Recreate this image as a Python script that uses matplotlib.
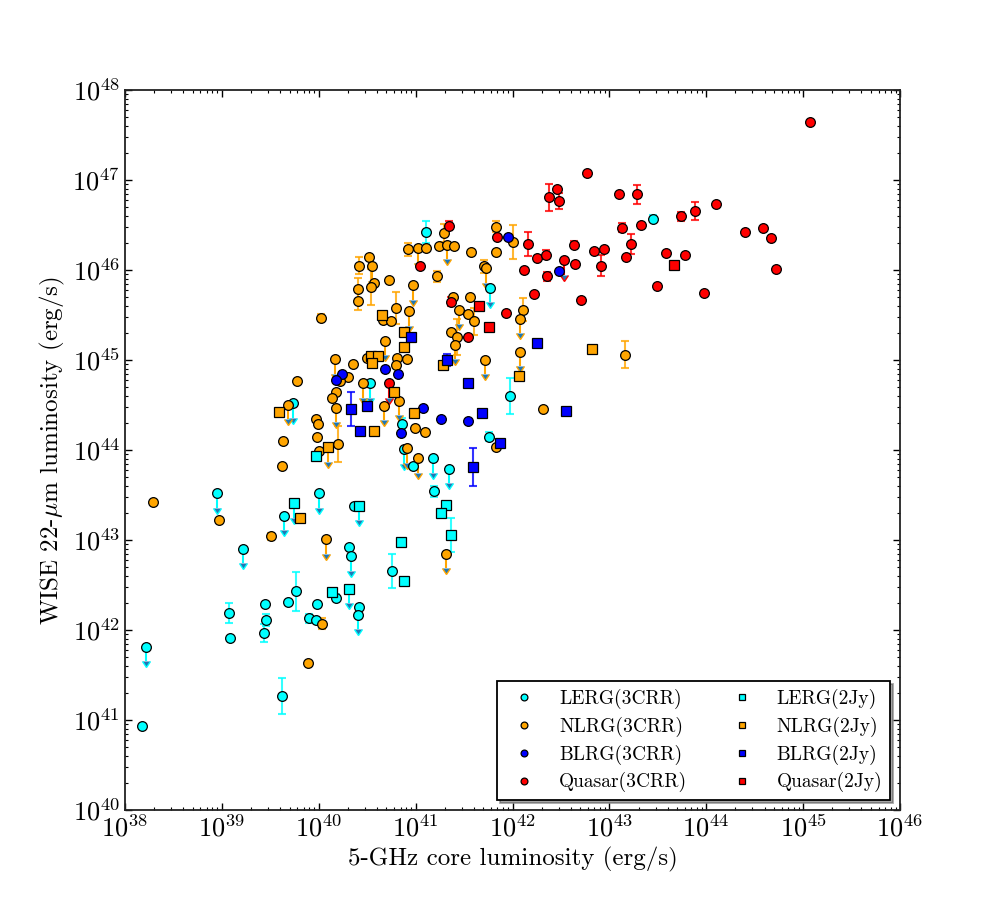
import numpy as np
import matplotlib
matplotlib.use('Agg')
import matplotlib.pyplot as plt
from matplotlib.ticker import LogLocator, NullFormatter

plt.rcParams['font.family'] = 'serif'
plt.rcParams['font.serif'] = ['cmr10']
plt.rcParams['mathtext.fontset'] = 'cm'
plt.rcParams['axes.unicode_minus'] = False
plt.rcParams['axes.formatter.use_mathtext'] = True

# log10 L_5GHz core, log10 L_22um, error in dex (0 = none, -1 = upper limit)
lerg3_x = [43.45, 41.11, 41.77, 41.97, 40.86, 41.76, 40.88, 40.97, 41.18, 41.34, 41.19, 40.76,
           40.53, 39.73, 38.95, 40.00, 39.64, 40.36, 39.22, 40.31, 40.33, 39.07, 39.08, 39.45,
           39.46, 39.43, 39.68, 39.77, 39.90, 39.98, 39.97, 40.18, 40.42, 40.41, 38.22, 39.62, 38.18]
lerg3_y = [46.57, 46.42, 45.80, 44.60, 44.29, 44.15, 44.01, 43.82, 43.91, 43.79, 43.54, 42.66,
           44.74, 44.52, 43.52, 43.52, 43.27, 43.38, 42.90, 42.92, 42.82, 42.19, 41.91, 42.29,
           42.11, 41.97, 42.31, 42.43, 42.13, 42.29, 42.11, 42.36, 42.26, 42.17, 41.81, 41.27, 40.93]
lerg3_e = [0.04, 0.12, -1, 0.2, 0.07, 0.05, -1, 0, -1, -1, 0.06, 0.19,
           -1, -1, -1, -1, -1, 0, -1, 0, -1, 0.11, 0, 0,
           0.07, 0.1, 0, 0.22, 0.05, 0, 0, 0.04, 0, -1, -1, 0.2, 0]

lerg2_x = [39.97, 39.74, 40.42, 41.31, 41.26, 41.37, 40.85, 40.88, 40.14, 40.31]
lerg2_y = [43.93, 43.41, 43.38, 43.39, 43.30, 43.06, 42.98, 42.54, 42.42, 42.46]
lerg2_e = [0, -1, -1, 0, 0, 0.19, 0, 0.05, 0.04, -1]

nlrg3_x = [40.02, 40.42, 40.41, 40.41, 40.52, 40.55, 40.57, 40.54, 40.72, 40.80, 40.66, 40.75,
           41.29, 40.92, 41.02, 41.11, 41.24, 41.32, 41.40, 41.57, 41.83, 41.83, 42.00, 40.97,
           41.22, 41.71, 41.73, 41.39, 41.56, 42.11, 42.08, 40.93, 41.45, 41.54, 41.60, 41.36,
           41.43, 41.41, 40.68, 40.50, 40.17, 40.35, 40.81, 40.80, 40.91, 40.30, 40.22, 41.72,
           42.08, 40.46, 40.83, 40.67, 40.18, 40.14, 40.18, 39.97, 39.99, 39.98, 40.00, 39.78,
           39.68, 39.63, 39.62, 40.20, 42.31, 43.16, 40.99, 41.10, 41.83, 40.91, 41.02, 41.31,
           38.29, 38.97, 39.51, 40.07, 40.03, 39.89]
nlrg3_y = [45.47, 46.05, 45.79, 45.66, 46.15, 46.04, 45.86, 45.81, 45.89, 45.58, 45.44, 45.43,
           46.41, 46.23, 46.24, 46.24, 46.27, 46.28, 46.27, 46.20, 46.20, 46.48, 46.31, 45.83,
           45.93, 46.04, 46.02, 45.70, 45.70, 45.56, 45.46, 45.54, 45.56, 45.51, 45.43, 45.31,
           45.26, 45.17, 45.21, 45.02, 45.01, 44.95, 45.02, 44.94, 45.01, 44.81, 44.77, 45.00,
           45.09, 44.74, 44.55, 44.49, 44.64, 44.58, 44.47, 44.35, 44.29, 44.15, 43.99, 44.77,
           44.50, 44.10, 43.82, 44.07, 44.46, 45.06, 44.24, 44.20, 44.03, 44.02, 43.91, 42.85,
           43.42, 43.22, 43.04, 43.01, 42.07, 41.63]
nlrg3_e = [0.04, 0.09, 0.12, 0.1, 0, -1, 0, 0.2, 0, 0.18, 0, 0,
           0.1, 0.07, -1, 0, 0, -1, 0, 0, 0, 0.06, 0.19, -1,
           0.06, 0.07, -1, 0, 0, 0.13, -1, -1, -1, 0, 0.15, 0,
           0.2, -1, -1, 0, -1, 0, 0, 0, 0, 0, 0, -1,
           -1, -1, -1, -1, 0, 0, -1, 0, 0, 0, 0, 0,
           -1, 0, 0, 0.2, 0, 0.15, 0, 0, 0, -1, -1, -1,
           0, 0, 0.04, -1, 0.06, 0]

nlrg2_x = [40.65, 40.88, 40.88, 40.54, 40.61, 40.55, 41.28, 42.07, 42.82, 40.78, 40.98, 39.59,
           40.57, 40.10, 39.81]
nlrg2_y = [45.50, 45.31, 45.14, 45.05, 45.04, 44.97, 44.94, 44.82, 45.12, 44.65, 44.41, 44.42,
           44.21, 44.03, 43.24]
nlrg2_e = [0, 0, 0, 0, 0, 0, 0, 0, 0, 0, 0, 0, 0, -1, 0]

blrg3_x = [41.95, 42.48, 40.68, 40.82, 40.24, 40.18, 41.08, 41.26, 41.54, 40.85]
blrg3_y = [46.37, 45.99, 44.90, 44.85, 44.84, 44.78, 44.47, 44.34, 44.32, 44.19]
blrg3_e = [0, 0, 0, 0, 0, 0, 0, 0, 0, 0]

blrg2_x = [40.95, 41.32, 41.54, 40.50, 40.33, 40.43, 41.68, 42.25, 42.55, 41.87, 41.59]
blrg2_y = [45.26, 45.00, 44.74, 44.49, 44.46, 44.21, 44.41, 45.19, 44.43, 44.08, 43.81]
blrg2_e = [0, 0.07, 0, 0, 0.19, 0, 0, 0, 0, 0, 0.21]

qso3_x = [45.07, 42.77, 42.38, 42.46, 42.48, 43.10, 43.28, 43.74, 43.88, 44.10, 44.40, 44.59,
          44.67, 43.58, 43.78, 44.72, 43.49, 43.98, 43.13, 43.33, 43.22, 43.17, 42.84, 42.94,
          42.63, 42.64, 42.53, 42.91, 42.71, 42.16, 42.25, 42.35, 42.36, 42.12, 42.22, 41.93,
          41.84, 41.34, 41.05, 41.37, 41.54, 40.72]
qso3_y = [47.65, 47.08, 46.81, 46.90, 46.77, 46.84, 46.84, 46.60, 46.66, 46.73, 46.42, 46.47,
          46.36, 46.19, 46.17, 46.01, 45.82, 45.75, 46.47, 46.50, 46.29, 46.14, 46.21, 46.23,
          46.28, 46.07, 46.11, 46.05, 45.67, 46.29, 46.13, 46.17, 45.93, 46.00, 45.73, 45.52,
          46.37, 46.49, 46.04, 45.65, 45.26, 44.74]
qso3_e = [0, 0, 0.15, 0, 0.09, 0, 0.11, 0.05, 0.1, 0, 0, 0,
          0, 0, 0, 0, 0, 0, 0.05, 0, 0.11, 0, 0, 0,
          0.04, 0, -1, 0.12, 0, 0.13, 0, 0.05, 0.05, 0, 0, 0,
          0, 0.05, 0, 0.05, 0, -1]

qso2_x = [41.65, 41.76, 43.67]
qso2_y = [45.60, 45.37, 46.06]
qso2_e = [0, 0, 0]

ARROW = 0.16


def plot_group(ax, lx, ly, le, color, marker, ms, label):
    lx = np.array(lx)
    ly = np.array(ly)
    le = np.array(le)
    x = 10**lx
    y = 10**ly
    eb = le > 0
    if eb.any():
        lo = y[eb] - 10**(ly[eb] - le[eb])
        hi = 10**(ly[eb] + le[eb]) - y[eb]
        ax.errorbar(x[eb], y[eb], yerr=[lo, hi], fmt='none', ecolor=color,
                    elinewidth=1.5, capsize=3, capthick=1.5, alpha=0.8, zorder=2)
    ul = le < 0
    if ul.any():
        d = y[ul] - 10**(ly[ul] - ARROW)
        ax.errorbar(x[ul], y[ul], yerr=d, uplims=True, fmt='none', ecolor=color,
                    elinewidth=1.5, capsize=3, zorder=2)
    ax.plot(x, y, ls='none', marker=marker, ms=ms, mfc=color, mec='k', mew=0.9,
            label=label, zorder=3)


fig = plt.figure(figsize=(10, 9), dpi=100)
ax = fig.add_axes([0.125, 0.1, 0.775, 0.8])
ax.set_xscale('log')
ax.set_yscale('log')

plot_group(ax, lerg3_x, lerg3_y, lerg3_e, 'cyan', 'o', 7, 'LERG(3CRR)')
plot_group(ax, nlrg3_x, nlrg3_y, nlrg3_e, 'orange', 'o', 7, 'NLRG(3CRR)')
plot_group(ax, blrg3_x, blrg3_y, blrg3_e, 'blue', 'o', 7, 'BLRG(3CRR)')
plot_group(ax, qso3_x, qso3_y, qso3_e, 'red', 'o', 7, 'Quasar(3CRR)')
plot_group(ax, lerg2_x, lerg2_y, lerg2_e, 'cyan', 's', 6.5, 'LERG(2Jy)')
plot_group(ax, nlrg2_x, nlrg2_y, nlrg2_e, 'orange', 's', 6.5, 'NLRG(2Jy)')
plot_group(ax, blrg2_x, blrg2_y, blrg2_e, 'blue', 's', 6.5, 'BLRG(2Jy)')
plot_group(ax, qso2_x, qso2_y, qso2_e, 'red', 's', 6.5, 'Quasar(2Jy)')

ax.set_xlim(1e38, 1e46)
ax.set_ylim(1e40, 1e48)
for a in (ax.xaxis, ax.yaxis):
    a.set_major_locator(LogLocator(base=10, numticks=20))
    a.set_minor_locator(LogLocator(base=10, subs=np.arange(2, 10), numticks=100))
    a.set_minor_formatter(NullFormatter())
ax.tick_params(which='both', direction='in', top=True, right=True, labelsize=19)
ax.tick_params(which='major', length=5, width=1)
ax.tick_params(which='minor', length=2.5, width=0.8)
for s in ax.spines.values():
    s.set_linewidth(1.3)
    s.set_color('#222222')

ax.set_xlabel('5-GHz core luminosity (erg/s)', fontsize=18)
ax.set_ylabel(r'WISE 22-$\mu$m luminosity (erg/s)', fontsize=18)

leg = ax.legend(loc='lower right', ncol=2, numpoints=1, markerscale=0.7, shadow=True,
                fancybox=False, fontsize=14, framealpha=1, edgecolor='k',
                columnspacing=1.8, labelspacing=0.4)
leg.get_frame().set_linewidth(1.3)

fig.savefig('out.png', dpi=100)
